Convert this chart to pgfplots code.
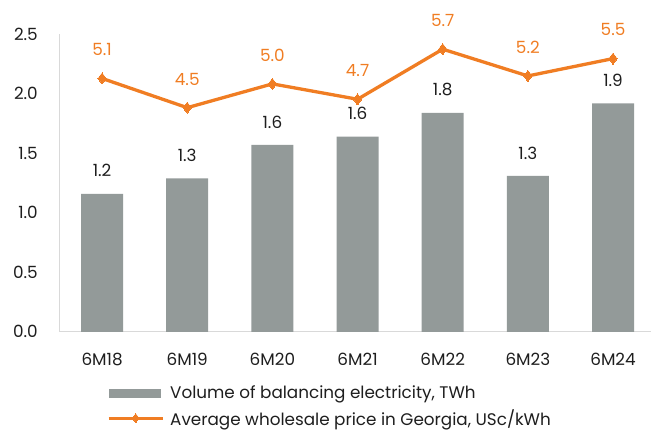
\documentclass[border=0pt]{standalone}
\usepackage{pgfplots}
\pgfplotsset{compat=1.18}
\usepackage{fontspec}
\setmainfont{Poppins}
\definecolor{barcol}{RGB}{147,154,153}
\definecolor{orangecol}{RGB}{240,125,35}
\definecolor{axiscol}{RGB}{217,217,217}
\definecolor{txtcol}{RGB}{30,30,30}
\pgfplotsset{
  mylineleg/.style={legend image code/.code={\draw[mark repeat=2, mark phase=2, ##1, line width=3pt, mark size=4.5pt] plot coordinates {(0pt,0pt) (27pt,0pt) (54pt,0pt)};}},
  mybarleg/.style={legend image code/.code={\fill[barcol] (0pt,-4pt) rectangle (51pt,4pt);}},
}
\begin{document}
\begin{tikzpicture}[font=\fontsize{16.8pt}{19pt}\selectfont]
\useasboundingbox (-59.5pt,-98.2pt) rectangle (591.5pt,331.8pt);
\begin{axis}[
  scale only axis, width=591.5pt, height=297.5pt,
  xmin=-0.5, xmax=6.446, ymin=0, ymax=2.5,
  axis lines*=left, axis line style={-, draw=axiscol, line width=1.3pt},
  xtick={0,...,6}, xticklabels={6M18,6M19,6M20,6M21,6M22,6M23,6M24},
  ytick={0,0.5,...,2.5},
  major tick length=0pt,
  /pgf/number format/assume math mode=true,
  yticklabel style={/pgf/number format/.cd, fixed, fixed zerofill, precision=1, /tikz/.cd, anchor=east, inner sep=0pt, xshift=-21.5pt, text=txtcol},
  xticklabel style={anchor=north, inner sep=0pt, yshift=-21pt, text=txtcol},
  ybar, bar width=42pt,
  nodes near coords,
  nodes near coords style={/pgf/number format/.cd, fixed, fixed zerofill, precision=1, assume math mode=true, /tikz/.cd, anchor=south, inner sep=0pt, yshift=16.5pt, text=txtcol},
]
\addplot[fill=barcol, draw=none] coordinates {(0,1.16) (1,1.29) (2,1.57) (3,1.64) (4,1.84) (5,1.31) (6,1.92)};
\end{axis}
\begin{axis}[
  scale only axis, width=591.5pt, height=297.5pt,
  xmin=-0.5, xmax=6.446, ymin=0, ymax=6,
  hide axis,
  legend style={at={(0.0803,-0.182)}, anchor=north west, draw=none, fill=none, inner sep=0pt,
    row sep=9pt, column sep=6pt, text=txtcol, nodes={inner sep=0pt}},
  legend cell align=left,
]
\addlegendimage{mybarleg}
\addlegendentry{Volume of balancing electricity, TWh}
\addplot[orangecol, line width=3.3pt, mark=diamond*, mark size=5.5pt, mark options={solid, line width=0pt},
  nodes near coords,
  nodes near coords style={/pgf/number format/.cd, fixed, fixed zerofill, precision=1, assume math mode=true, /tikz/.cd, anchor=south, inner sep=0pt, yshift=22.5pt, text=orangecol},
  mylineleg
] coordinates {(0,5.11) (1,4.52) (2,5.00) (3,4.69) (4,5.70) (5,5.16) (6,5.51)};
\addlegendentry{Average wholesale price in Georgia, USc/kWh}
\end{axis}
\end{tikzpicture}
\end{document}
